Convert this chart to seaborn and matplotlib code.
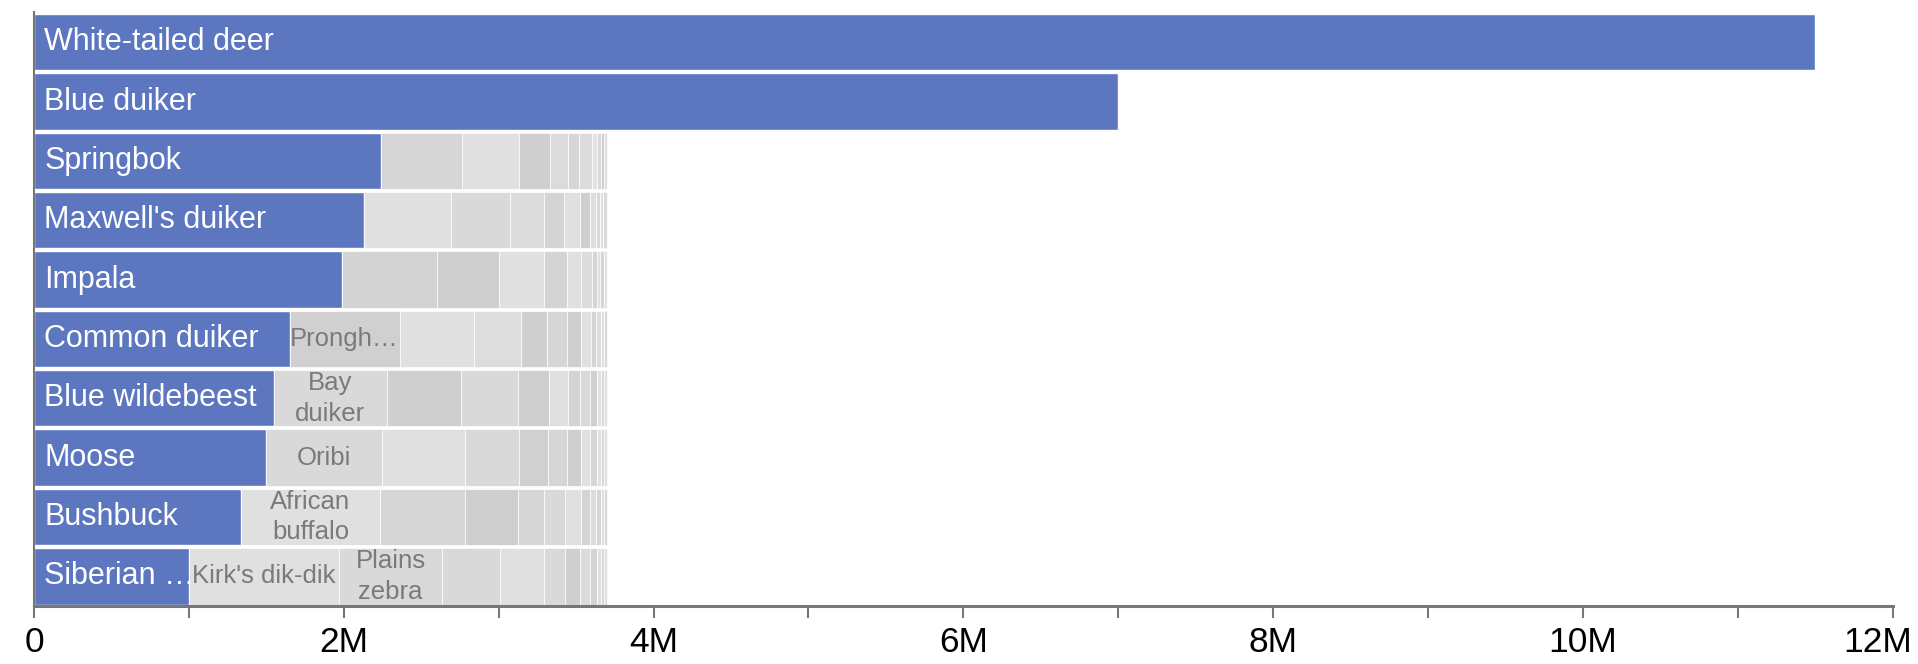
import numpy as np
import matplotlib
matplotlib.use("Agg")
import matplotlib.pyplot as plt
from matplotlib.ticker import FuncFormatter, MultipleLocator
import seaborn as sns

# top species (blue bars)
species = ["White-tailed deer", "Blue duiker", "Springbok", "Maxwell's duiker", "Impala",
           "Common duiker", "Blue wildebeest", "Moose", "Bushbuck", "Siberian …"]
totals = [11.5e6, 7.0e6, 2.24e6, 2.13e6, 1.99e6, 1.65e6, 1.547e6, 1.50e6, 1.336e6, 0.999e6]

# remaining species packed after rows 3-10 (millions)
other_rows = [2, 3, 4, 5, 6, 7, 8, 9]
other_values = [
    [0.52, 0.37, 0.20, 0.12, 0.07, 0.08, 0.035, 0.025, 0.02, 0.02],
    [0.56, 0.38, 0.22, 0.134, 0.103, 0.065, 0.034, 0.026, 0.022, 0.026],
    [0.61, 0.40, 0.29, 0.153, 0.091, 0.071, 0.03, 0.021, 0.022, 0.022],
    [0.71, 0.48, 0.306, 0.164, 0.133, 0.091, 0.064, 0.032, 0.03, 0.02, 0.02],
    [0.733, 0.478, 0.369, 0.198, 0.125, 0.077, 0.065, 0.043, 0.025, 0.02, 0.02],
    [0.748, 0.533, 0.352, 0.183, 0.124, 0.094, 0.058, 0.043, 0.025, 0.02, 0.02],
    [0.897, 0.548, 0.346, 0.168, 0.135, 0.10, 0.062, 0.038, 0.03, 0.02, 0.02],
    [0.97, 0.667, 0.374, 0.28, 0.14, 0.097, 0.065, 0.043, 0.025, 0.02, 0.02],
]
other_labels = [
    [], [], [], ["Prongh…"], ["Bay\nduiker"], ["Oribi"],
    ["African\nbuffalo"], ["Kirk's dik-dik", "Plains\nzebra"],
]

# grey level (hex byte) of each packed segment
shades = [
    ["d6", "e0", "cf", "db", "d6", "dc", "e2", "d9", "d0", "e0"],
    ["e0", "d9", "dc", "d4", "e0", "cf", "dd", "d9", "e0", "d9"],
    ["d3", "cf", "e0", "d4", "e0", "dc", "d4", "e0", "d6", "e2"],
    ["d0", "e0", "dd", "cf", "d6", "cf", "e0", "d4", "dc", "e0", "d9"],
    ["d9", "cf", "d9", "cf", "e0", "d4", "d9", "d0", "e2", "d9", "e0"],
    ["d9", "e0", "d9", "d0", "d6", "cf", "e0", "d6", "e2", "d9", "e0"],
    ["e0", "d6", "cf", "d6", "d9", "e0", "d4", "dc", "d6", "e0", "d9"],
    ["e0", "d9", "d9", "e0", "d9", "cf", "dc", "d4", "e0", "d9", "e0"],
]

BLUE = "#5c77c0"
AXIS = "#777777"
TICK_LEN, TICK_PAD, TICK_SIZE = 8.6, 6, 25.5

sns.set_theme(style="white")
plt.rcParams["font.family"] = ["Liberation Sans", "DejaVu Sans"]

fig = plt.figure(figsize=(19.18, 6.64), dpi=100)
ax = fig.add_axes([34 / 1918, 58 / 664, 1858.7 / 1918, 593.5 / 664])

sns.barplot(x=totals, y=species, orient="h", color=BLUE, saturation=1,
            width=0.95, ax=ax)

for row, vals, labs, cols in zip(other_rows, other_values, other_labels, shades):
    widths = np.array(vals) * 1e6
    lefts = totals[row] + np.concatenate([[0], np.cumsum(widths)[:-1]])
    ax.barh([row] * len(widths), widths, left=lefts, height=0.95,
            color=["#" + c * 3 for c in cols], edgecolor="white", linewidth=0.5)
    for lab, l, w in zip(labs, lefts, widths):
        ax.text(l + w / 2, row, lab, ha="center", va="center",
                fontsize=18.5, color="#7a7a7a", linespacing=1.35)

for i, name in enumerate(species):
    ax.annotate(name, xy=(0, i), xytext=(7.5, 0), textcoords="offset points",
                ha="left", va="center", fontsize=22, color="white")

xmax = 12e6
ax.set_xlim(0, xmax)
ax.set_ylim(9.5, -0.5)
ax.set_xlabel("")
ax.set_ylabel("")
ax.xaxis.set_major_locator(MultipleLocator(2e6))
ax.xaxis.set_minor_locator(MultipleLocator(1e6))
# the last label is drawn separately so it stays inside the figure
ax.xaxis.set_major_formatter(FuncFormatter(
    lambda v, p: "" if v >= xmax else ("0" if v == 0 else f"{v / 1e6:.0f}M")))
ax.tick_params(axis="x", which="both", bottom=True, length=TICK_LEN, width=1.5,
               color=AXIS, labelsize=TICK_SIZE, labelcolor="black", pad=TICK_PAD)
ax.tick_params(axis="y", left=False, labelleft=False)
ax.annotate(f"{xmax / 1e6:.0f}M", xy=(xmax, 0), xycoords=("data", "axes fraction"),
            xytext=(13.7, -(TICK_LEN + TICK_PAD)), textcoords="offset points",
            ha="right", va="top", fontsize=TICK_SIZE, color="black",
            annotation_clip=False)

sns.despine(ax=ax, top=True, right=True)
ax.spines["left"].set_color(AXIS)
ax.spines["left"].set_linewidth(1.5)
ax.spines["bottom"].set_color(AXIS)
ax.spines["bottom"].set_linewidth(2.2)

fig.savefig("out.png", dpi=100, facecolor="white")
